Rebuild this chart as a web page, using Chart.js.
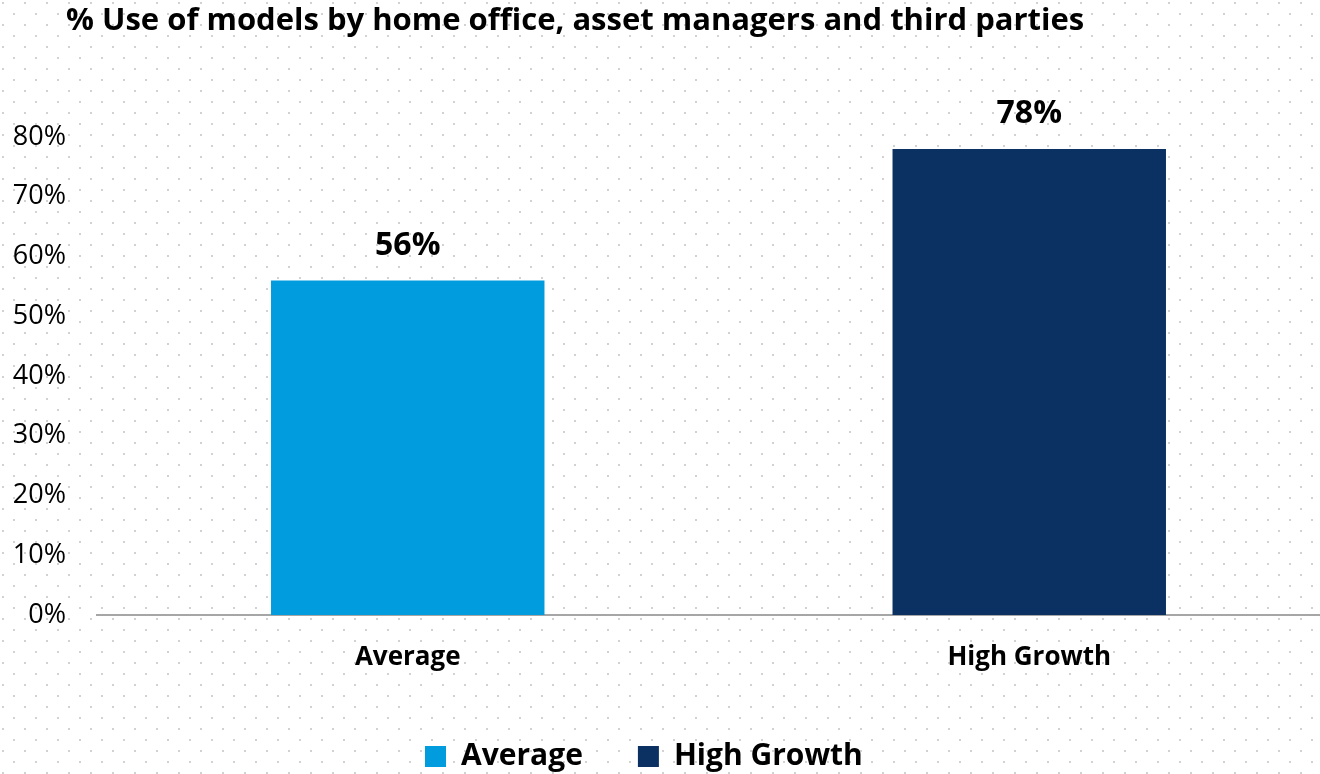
<!DOCTYPE html>
<html>
<head>
<meta charset="utf-8">
<script src="https://cdn.jsdelivr.net/npm/chart.js@4.4.1/dist/chart.umd.min.js"></script>
<style>
  html, body { margin: 0; padding: 0; background: #ffffff; overflow: hidden; }
  #wrap { width: 1340px; height: 774px; }
</style>
</head>
<body>
<div id="wrap"><canvas id="c" width="1340" height="774"></canvas></div>
<script>
const categories = ['Average', 'High Growth'];
const seriesNames = ['Average', 'High Growth'];
const values = [56, 78];
const barColors = ['#009cdd', '#0b3163'];
const yTicks = [0, 10, 20, 30, 40, 50, 60, 70, 80];
const titleText = '% Use of models by home office, asset managers and third parties';

const FONT = '"Open Sans", Lato, sans-serif';

const dotsBg = {
  id: 'dotsBg',
  beforeDraw(chart) {
    const ctx = chart.ctx;
    ctx.save();
    ctx.fillStyle = '#ffffff';
    ctx.fillRect(0, 0, chart.width, chart.height);
    ctx.fillStyle = '#d2d2d2';
    for (let r = 0, y = 2; y < chart.height; r++, y += 11) {
      const off = (r % 2) ? 13 : 2;
      for (let x = off; x < chart.width; x += 22) {
        ctx.fillRect(x, y, 2, 2);
      }
    }
    ctx.restore();
  }
};

const boxShift = {
  id: 'boxShift',
  afterLayout(chart) {
    if (chart.titleBlock) { chart.titleBlock.left = 66; }
    if (chart.legend) {
      const P = chart.legend.options.labels.padding;
      chart.legend.left = 425 - P;
      const h = chart.legend.height;
      chart.legend.top = 741.5 - P;
      chart.legend.bottom = chart.legend.top + h;
    }
  }
};

const valueLabels = {
  id: 'valueLabels',
  afterDatasetsDraw(chart) {
    const ctx = chart.ctx;
    ctx.save();
    ctx.font = 'bold 32px ' + FONT;
    ctx.fillStyle = '#000000';
    ctx.textAlign = 'center';
    ctx.textBaseline = 'middle';
    chart.data.datasets.forEach((ds, di) => {
      const meta = chart.getDatasetMeta(di);
      meta.data.forEach((bar, i) => {
        const v = ds.data[i];
        if (v === null || v === undefined) return;
        ctx.fillText(v + '%', bar.x, bar.y - 35);
      });
    });
    ctx.restore();
  }
};

const datasets = seriesNames.map((name, si) => ({
  label: name,
  data: categories.map((c, ci) => (ci === si ? values[si] : null)),
  backgroundColor: barColors[si],
  borderWidth: 0,
  barPercentage: 0.88,
  categoryPercentage: 0.5,
  grouped: false
}));

new Chart(document.getElementById('c'), {
  type: 'bar',
  data: { labels: categories, datasets },
  plugins: [dotsBg, boxShift, valueLabels],
  options: {
    responsive: false,
    animation: false,
    layout: { padding: { top: 0, left: 0, right: 0, bottom: 0 } },
    plugins: {
      title: {
        display: true,
        text: titleText,
        align: 'start',
        color: '#000000',
        font: { family: FONT, size: 31, weight: 'bold', lineHeight: 1.2 },
        padding: { top: 3, bottom: 96.8 }
      },
      legend: {
        display: true,
        position: 'bottom',
        align: 'start',
        labels: {
          color: '#000000',
          boxWidth: 21,
          boxHeight: 21,
          padding: 55,
          font: { family: FONT, size: 30, weight: 'bold' }
        }
      },
      tooltip: { enabled: false }
    },
    scales: {
      x: {
        grid: { display: false },
        border: { display: true, color: '#a6a6a6', width: 2 },
        ticks: {
          color: '#000000',
          font: { family: FONT, size: 26, weight: 'bold' },
          padding: 19
        },
        afterFit(scale) { scale.height = 64; }
      },
      y: {
        min: 0,
        max: 80,
        grid: { display: false },
        border: { display: false },
        afterBuildTicks(scale) { scale.ticks = yTicks.map(v => ({ value: v })); },
        ticks: {
          color: '#000000',
          font: { family: FONT, size: 27 },
          padding: 23,
          callback: (v) => v + '%'
        },
        afterFit(scale) { scale.width = 97; }
      }
    }
  }
});
</script>
</body>
</html>
